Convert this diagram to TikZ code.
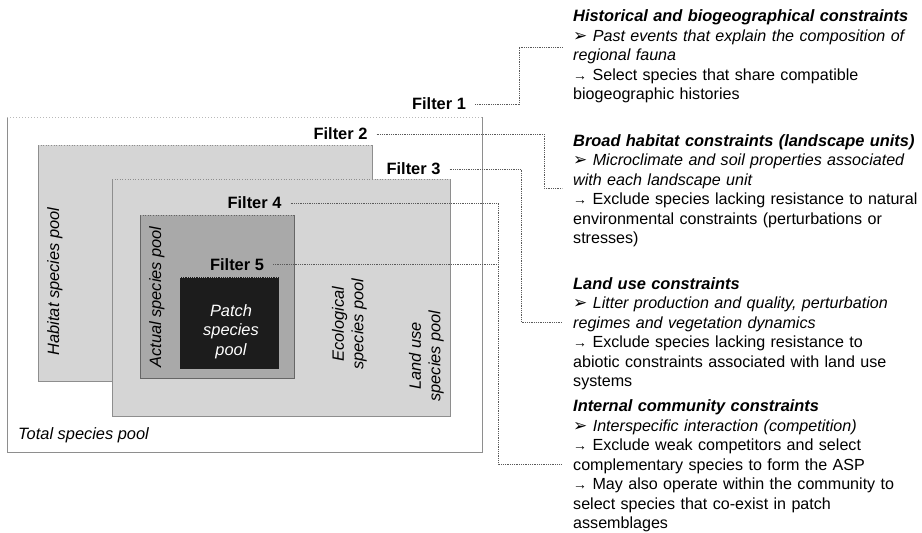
\documentclass[tikz,border=0pt]{standalone}
\usepackage{fontspec}
\setmainfont{Liberation Sans}
\newfontfamily\symfont{DejaVu Sans}
\newcommand\rtx{\fontsize{16.4}{19.5}\selectfont\hyphenpenalty=10000 }
\newcommand\btx{\fontsize{16.1}{19.5}\selectfont\hyphenpenalty=10000 }
\newcommand\hd[1]{\textbf{\textit{\fontsize{16.4}{19.5}\selectfont #1}}}
\newcommand\tri{{\fontsize{17}{10}\symfont ➢}\ }
\newcommand\arr{{\fontsize{14}{10}\selectfont →}\ }
\definecolor{lightfill}{HTML}{D5D5D5}
\definecolor{midfill}{HTML}{A9A9A9}
\definecolor{darkfill}{HTML}{1C1C1C}
\definecolor{edgegray}{HTML}{8E8E8E}
\definecolor{conngray}{HTML}{5A5A5A}
\begin{document}
\begin{tikzpicture}[x=1pt,y=-1pt,
  edge/.style={draw=edgegray, line width=1pt},
  topdot/.style={draw=edgegray, line width=1pt, dash pattern=on 1pt off 1.6pt},
  toplight/.style={draw=gray!55, line width=1pt, dash pattern=on 1pt off 2pt},
  conn/.style={draw=conngray, line width=0.9pt, dash pattern=on 1pt off 0.8pt},
  lbl/.style={font=\rtx\itshape, inner sep=0pt},
  flt/.style={font=\rtx\bfseries, inner xsep=9pt, inner ysep=0pt},
  blk/.style={font=\btx, anchor=north west, inner sep=0pt, text width=370pt, align=left}]
\useasboundingbox (0,0) rectangle (922,533);
% Total species pool
\draw[edge] (7,117) -- (7,452) -- (482,452) -- (482,117);
\draw[toplight] (7,117) -- (482,117);
% Habitat species pool
\fill[lightfill] (38,145) rectangle (372,381);
\draw[edge] (38,145) -- (38,381) -- (372,381) -- (372,145);
\draw[topdot] (38,145) -- (372,145);
% Land use species pool
\fill[lightfill] (112,179) rectangle (450,416);
\draw[edge] (112,179) -- (112,416) -- (450,416) -- (450,179);
\draw[topdot] (112,179) -- (450,179);
% Actual species pool
\fill[midfill] (140,215) rectangle (294,378);
\draw[draw=gray!80!black, line width=1pt] (140,215) -- (140,378) -- (294,378) -- (294,215);
\draw[draw=gray!80!black, line width=1pt, dash pattern=on 1pt off 1.6pt] (140,215) -- (294,215);
% Patch species pool
\fill[darkfill] (180,277) rectangle (279,369);
\draw[draw=gray!60, line width=1pt, dash pattern=on 1pt off 1.2pt] (180,277) -- (279,277);

% pool labels
\node[lbl, anchor=west] (ltot) at (18,435) {Total species pool};
\node[lbl, rotate=90] (lhab) at (55,281.5) {Habitat species pool};
\node[lbl, rotate=90] (lact) at (157,297) {Actual species pool};
\node[lbl, rotate=90, align=center] (leco) at (349.5,324) {Ecological\\species pool};
\node[lbl, rotate=90, align=center] (llan) at (426.5,356) {Land use\\species pool};
\node[lbl, text=white, align=center] (lpat) at (231,331.5) {Patch\\species\\pool};

% filter labels
\node[flt] (f1) at (439,104) {Filter 1};
\node[flt] (f2) at (340.5,134) {Filter 2};
\node[flt] (f3) at (413.5,169) {Filter 3};
\node[flt] (f4) at (254.5,203) {Filter 4};
\node[flt] (f5) at (237,264.5) {Filter 5};

% constraint texts
\node[blk] (b1) at (573,9.5) {\hd{Historical and biogeographical constraints}\\
\tri\textit{Past events that explain the composition of}\\
\textit{regional fauna}\\
\arr Select species that share compatible\\
biogeographic histories};
\node[blk] (b2) at (573,134) {\hd{Broad habitat constraints (landscape units)}\\
\tri\textit{Microclimate and soil properties associated}\\
\textit{with each landscape unit}\\
\arr Exclude species lacking resistance to natural\\
environmental constraints (perturbations or\\
stresses)};
\node[blk] (b3) at (573,277) {\hd{Land use constraints}\\
\tri\textit{Litter production and quality, perturbation}\\
\textit{regimes and vegetation dynamics}\\
\arr Exclude species lacking resistance to\\
abiotic constraints associated with land use\\
systems};
\node[blk] (b4) at (573,399.5) {\hd{Internal community constraints}\\
\tri\textit{Interspecific interaction (competition)}\\
\arr Exclude weak competitors and select\\
complementary species to form the ASP\\
\arr May also operate within the community to\\
select species that co-exist in patch\\
assemblages};

% connector ends and bends
\coordinate (e1) at (563,47);
\coordinate (e2) at (562,188);
\coordinate (e3) at (562,322);
\coordinate (e4) at (562,464);
\coordinate (k1) at (519,47);
\coordinate (k2) at (544,188);
\coordinate (k3) at (521,322);
\coordinate (k4) at (498,464);

\draw[conn] (f1.east) -| (k1) -- (e1);
\draw[conn] (f2.east) -| (k2) -- (e2);
\draw[conn] (f3.east) -| (k3) -- (e3);
\draw[conn] (f4.east) -| (k4) -- (e4);
\draw[conn] (f5.east) -- (f5.east -| k4);
\end{tikzpicture}
\end{document}
